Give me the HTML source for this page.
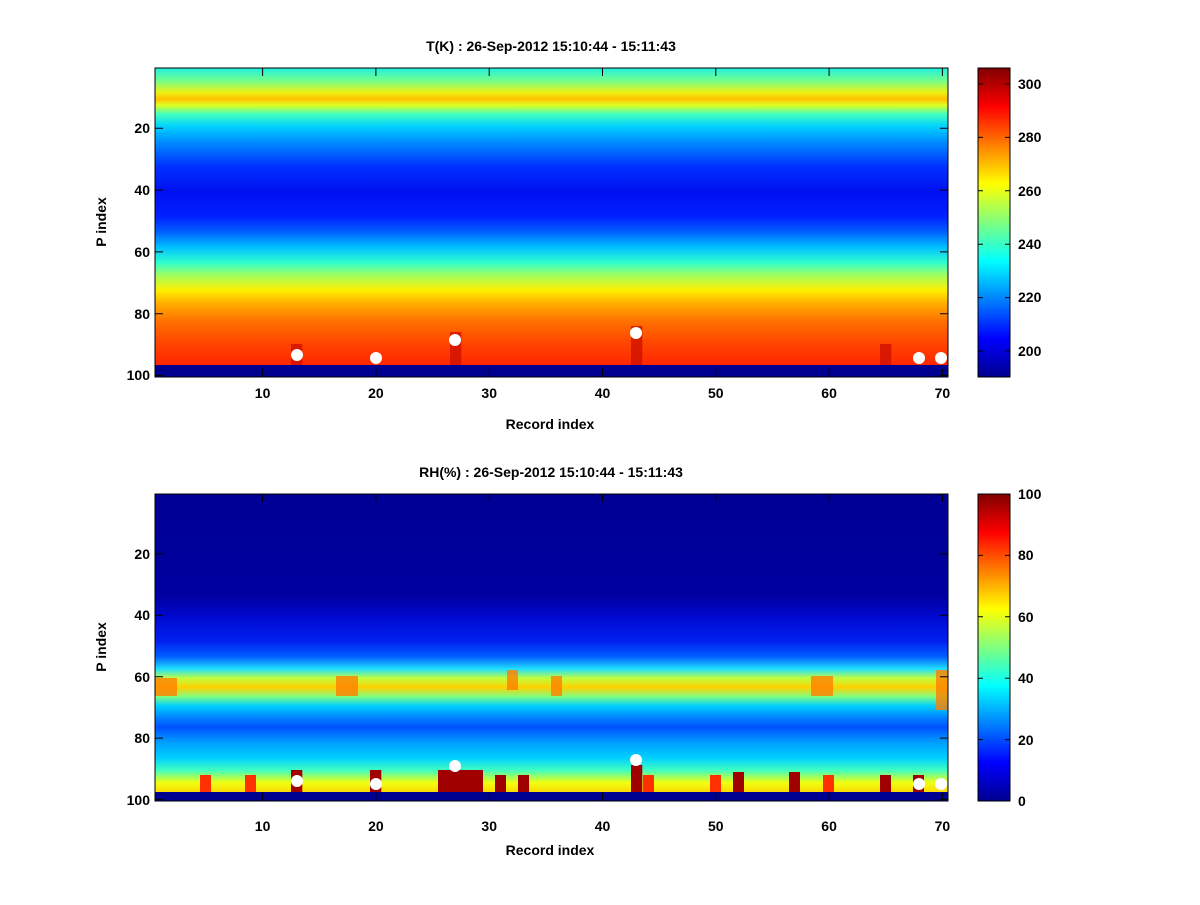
<!DOCTYPE html>
<html><head><meta charset="utf-8"><style>body{margin:0;background:#fff}svg text{font-family:"Liberation Sans",sans-serif;font-weight:bold;font-size:14px;fill:#000}</style></head><body>
<svg width="1200" height="900" xmlns="http://www.w3.org/2000/svg">
<defs>
<linearGradient id="jet" x1="0" y1="1" x2="0" y2="0">
<stop offset="0" stop-color="#00008F"/><stop offset="0.125" stop-color="#0000FF"/><stop offset="0.375" stop-color="#00FFFF"/><stop offset="0.625" stop-color="#FFFF00"/><stop offset="0.875" stop-color="#FF0000"/><stop offset="1" stop-color="#800000"/>
</linearGradient>
<linearGradient id="tg" x1="0" y1="0" x2="0" y2="1">
<stop offset="0" stop-color="#20F0E0"/><stop offset="0.04" stop-color="#70FF90"/><stop offset="0.08" stop-color="#F0F010"/><stop offset="0.10" stop-color="#FFC000"/><stop offset="0.12" stop-color="#E0FF20"/><stop offset="0.15" stop-color="#40FFC0"/><stop offset="0.19" stop-color="#00D0FF"/><stop offset="0.25" stop-color="#0080FF"/><stop offset="0.32" stop-color="#0030FF"/><stop offset="0.40" stop-color="#0010F0"/><stop offset="0.48" stop-color="#0020FF"/><stop offset="0.53" stop-color="#0060FF"/><stop offset="0.58" stop-color="#00C0FF"/><stop offset="0.63" stop-color="#30FFD0"/><stop offset="0.67" stop-color="#A0FF60"/><stop offset="0.72" stop-color="#FFF000"/><stop offset="0.76" stop-color="#FFB000"/><stop offset="0.82" stop-color="#FF7000"/><stop offset="0.90" stop-color="#FF4000"/><stop offset="0.98" stop-color="#FF2000"/>
</linearGradient>
<linearGradient id="rg" x1="0" y1="0" x2="0" y2="1">
<stop offset="0" stop-color="#000095"/><stop offset="0.33" stop-color="#0000A0"/><stop offset="0.40" stop-color="#0008D0"/><stop offset="0.48" stop-color="#0020F0"/><stop offset="0.53" stop-color="#0060FF"/><stop offset="0.57" stop-color="#20E0FF"/><stop offset="0.60" stop-color="#C0FF40"/><stop offset="0.63" stop-color="#FFD000"/><stop offset="0.66" stop-color="#80FF80"/><stop offset="0.69" stop-color="#00D0FF"/><stop offset="0.73" stop-color="#0080FF"/><stop offset="0.76" stop-color="#0050FF"/><stop offset="0.81" stop-color="#00A0FF"/><stop offset="0.86" stop-color="#00D0FF"/><stop offset="0.90" stop-color="#40FFC0"/><stop offset="0.94" stop-color="#F0FF10"/><stop offset="0.98" stop-color="#FFD000"/>
</linearGradient>
</defs>
<!-- top -->
<rect x="155" y="68" width="793" height="309" fill="url(#tg)"/>
<g fill="#D01000" opacity="0.8">
<rect x="291" y="344" width="11.3" height="27"/><rect x="450" y="332" width="11.3" height="39"/><rect x="631" y="326" width="11.3" height="45"/><rect x="880" y="344" width="11.3" height="27"/>
</g>
<rect x="155" y="365" width="793" height="12" fill="#000090"/>
<g fill="#fff"><circle cx="297" cy="355" r="6"/><circle cx="376" cy="358" r="6"/><circle cx="455" cy="340" r="6"/><circle cx="636" cy="333" r="6"/><circle cx="919" cy="358" r="6"/><circle cx="941" cy="358" r="6"/></g>
<rect x="155" y="68" width="793" height="309" fill="none" stroke="#000"/>
<!-- bottom -->
<rect x="155" y="494" width="793" height="307" fill="url(#rg)"/>
<g fill="#FF8000" opacity="0.8">
<rect x="155" y="678" width="22" height="18"/><rect x="336" y="676" width="22" height="20"/><rect x="507" y="670" width="11" height="20"/><rect x="551" y="676" width="11" height="20"/><rect x="811" y="676" width="22" height="20"/><rect x="936" y="670" width="12" height="40"/>
</g>
<g fill="#A00000">
<rect x="291" y="770" width="11.3" height="22"/><rect x="370" y="770" width="11.3" height="22"/><rect x="438" y="770" width="45" height="22"/><rect x="495" y="775" width="11" height="17"/><rect x="518" y="775" width="11" height="17"/><rect x="631" y="765" width="11.3" height="27"/><rect x="733" y="772" width="11" height="20"/><rect x="789" y="772" width="11" height="20"/><rect x="880" y="775" width="11" height="17"/><rect x="913" y="775" width="11" height="17"/>
</g>
<g fill="#FF3000"><rect x="200" y="775" width="11" height="17"/><rect x="245" y="775" width="11" height="17"/><rect x="710" y="775" width="11" height="17"/><rect x="823" y="775" width="11" height="17"/><rect x="643" y="775" width="11" height="17"/></g>
<rect x="155" y="792" width="793" height="9" fill="#000090"/>
<g fill="#fff"><circle cx="297" cy="781" r="6"/><circle cx="376" cy="784" r="6"/><circle cx="455" cy="766" r="6"/><circle cx="636" cy="760" r="6"/><circle cx="919" cy="784" r="6"/><circle cx="941" cy="784" r="6"/></g>
<rect x="155" y="494" width="793" height="307" fill="none" stroke="#000"/>
<!-- ticks -->
<g stroke="#000">
<path d="M262.6 377v-8M375.9 377v-8M489.2 377v-8M602.5 377v-8M715.8 377v-8M829.1 377v-8M942.4 377v-8M262.6 68v8M375.9 68v8M489.2 68v8M602.5 68v8M715.8 68v8M829.1 68v8M942.4 68v8"/>
<path d="M155 128.3h8M155 190.1h8M155 251.9h8M155 313.7h8M155 375.5h8M948 128.3h-8M948 190.1h-8M948 251.9h-8M948 313.7h-8M948 375.5h-8"/>
<path d="M262.6 801v-8M375.9 801v-8M489.2 801v-8M602.5 801v-8M715.8 801v-8M829.1 801v-8M942.4 801v-8M262.6 494v8M375.9 494v8M489.2 494v8M602.5 494v8M715.8 494v8M829.1 494v8M942.4 494v8"/>
<path d="M155 553.9h8M155 615.3h8M155 676.7h8M155 738.1h8M155 799.5h8M948 553.9h-8M948 615.3h-8M948 676.7h-8M948 738.1h-8M948 799.5h-8"/>
</g>
<g text-anchor="middle">
<text x="262.6" y="398">10</text><text x="375.9" y="398">20</text><text x="489.2" y="398">30</text><text x="602.5" y="398">40</text><text x="715.8" y="398">50</text><text x="829.1" y="398">60</text><text x="942.4" y="398">70</text>
<text x="262.6" y="831">10</text><text x="375.9" y="831">20</text><text x="489.2" y="831">30</text><text x="602.5" y="831">40</text><text x="715.8" y="831">50</text><text x="829.1" y="831">60</text><text x="942.4" y="831">70</text>
<text x="550" y="429" font-size="16">Record index</text><text x="550" y="855" font-size="16">Record index</text>
<text x="551" y="51">T(K) : 26-Sep-2012 15:10:44 - 15:11:43</text>
<text x="551" y="477">RH(%) : 26-Sep-2012 15:10:44 - 15:11:43</text>
</g>
<g text-anchor="end">
<text x="150" y="133">20</text><text x="150" y="195">40</text><text x="150" y="257">60</text><text x="150" y="319">80</text><text x="150" y="380">100</text>
<text x="150" y="559">20</text><text x="150" y="620">40</text><text x="150" y="682">60</text><text x="150" y="743">80</text><text x="150" y="805">100</text>
</g>
<text transform="translate(106 222) rotate(-90)" text-anchor="middle" font-size="16">P index</text>
<text transform="translate(106 647) rotate(-90)" text-anchor="middle" font-size="16">P index</text>
<!-- colorbars -->
<rect x="978" y="68" width="32" height="309" fill="url(#jet)" stroke="#000"/>
<rect x="978" y="494" width="32" height="307" fill="url(#jet)" stroke="#000"/>
<g stroke="#000"><path d="M1010 351h-5M1010 297.6h-5M1010 244.2h-5M1010 190.8h-5M1010 137.4h-5M1010 84h-5M978 351h5M978 297.6h5M978 244.2h5M978 190.8h5M978 137.4h5M978 84h5"/>
<path d="M1010 739.6h-5M1010 678.2h-5M1010 616.8h-5M1010 555.4h-5M978 739.6h5M978 678.2h5M978 616.8h5M978 555.4h5"/></g>
<g>
<text x="1018" y="356">200</text><text x="1018" y="302">220</text><text x="1018" y="249">240</text><text x="1018" y="196">260</text><text x="1018" y="142">280</text><text x="1018" y="89">300</text>
<text x="1018" y="806">0</text><text x="1018" y="745">20</text><text x="1018" y="683">40</text><text x="1018" y="622">60</text><text x="1018" y="560">80</text><text x="1018" y="499">100</text>
</g>
</svg>
</body></html>
